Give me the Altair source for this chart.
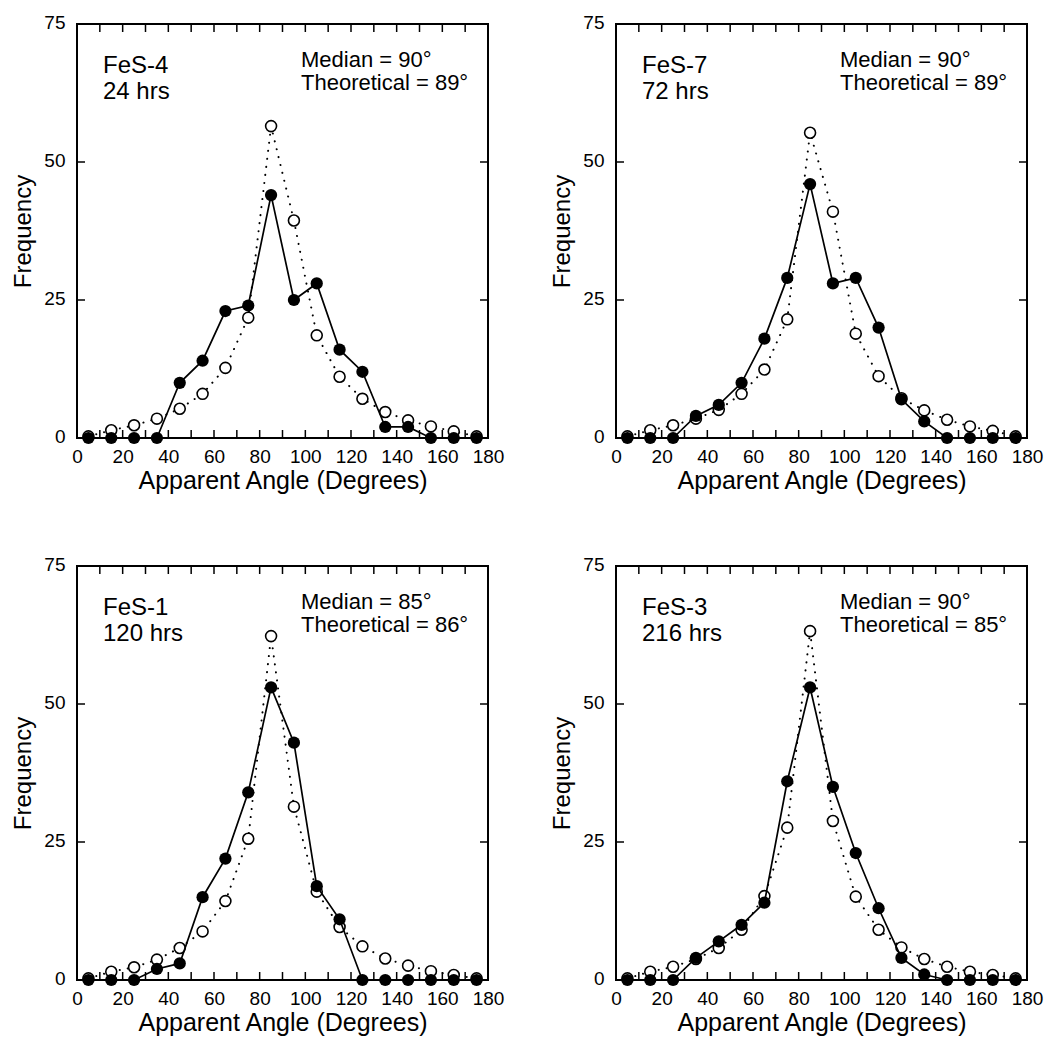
import altair as alt
import pandas as pd

angles = [5, 15, 25, 35, 45, 55, 65, 75, 85, 95, 105, 115, 125, 135, 145, 155, 165, 175]

names = ["FeS-4", "FeS-7", "FeS-1", "FeS-3"]
hours = ["24 hrs", "72 hrs", "120 hrs", "216 hrs"]
medians = ["Median = 90°", "Median = 90°", "Median = 85°", "Median = 90°"]
theoreticals = ["Theoretical = 89°", "Theoretical = 89°", "Theoretical = 86°", "Theoretical = 85°"]

observed_fes4 = [0, 0, 0, 0, 10, 14, 23, 24, 44, 25, 28, 16, 12, 2, 2, 0, 0, 0]
theory_fes4 = [0.3, 1.4, 2.3, 3.5, 5.3, 8.0, 12.7, 21.8, 56.5, 39.4, 18.6, 11.1, 7.1, 4.7, 3.2, 2.1, 1.2, 0.3]

observed_fes7 = [0, 0, 0, 4, 6, 10, 18, 29, 46, 28, 29, 20, 7, 3, 0, 0, 0, 0]
theory_fes7 = [0.3, 1.4, 2.3, 3.5, 5.1, 8.0, 12.4, 21.5, 55.3, 41.0, 18.9, 11.2, 7.2, 5.0, 3.3, 2.1, 1.3, 0.3]

observed_fes1 = [0, 0, 0, 2, 3, 15, 22, 34, 53, 43, 17, 11, 0, 0, 0, 0, 0, 0]
theory_fes1 = [0.3, 1.5, 2.3, 3.7, 5.8, 8.8, 14.3, 25.6, 62.3, 31.4, 16.0, 9.6, 6.1, 3.9, 2.6, 1.6, 0.9, 0.3]

observed_fes3 = [0, 0, 0, 4, 7, 10, 14, 36, 53, 35, 23, 13, 4, 1, 0, 0, 0, 0]
theory_fes3 = [0.3, 1.5, 2.4, 3.8, 5.8, 9.1, 15.2, 27.6, 63.2, 28.8, 15.1, 9.1, 5.9, 3.8, 2.4, 1.5, 0.9, 0.3]

observed = [observed_fes4, observed_fes7, observed_fes1, observed_fes3]
theory = [theory_fes4, theory_fes7, theory_fes1, theory_fes3]

x_ticks = list(range(0, 181, 10))
y_ticks = [0, 25, 50, 75]

W, H = 411, 414
TICK = 8
FONT = "Liberation Sans"

xscale = alt.Scale(domain=[0, 180], nice=False, zero=False)
yscale = alt.Scale(domain=[0, 75], nice=False, zero=True)

bottom_axis = alt.Axis(values=x_ticks, labelExpr="datum.value % 20 == 0 ? datum.label : ''",
                       ticks=False, domain=False, grid=False,
                       labelColor="black", labelFontSize=19, labelPadding=9,
                       labelFont=FONT, labelFlush=False, labelOverlap=False,
                       title="Apparent Angle (Degrees)", titleFontSize=25, titleFont=FONT,
                       titleFontWeight="normal", titleColor="black", titlePadding=2)

left_axis = alt.Axis(values=y_ticks, ticks=False, domain=False, grid=False,
                     labelColor="black", labelFontSize=19,
                     labelPadding=12, labelFont=FONT, labelOffset=-2, labelFlush=False,
                     title="Frequency", titleFontSize=24, titleFont=FONT,
                     titleFontWeight="normal", titleColor="black", titlePadding=8)

xtick_df = pd.DataFrame({"tick": x_ticks})
ytick_df = pd.DataFrame({"tick": y_ticks})


def panel(i):
    df_t = pd.DataFrame({"angle": angles, "freq": theory[i]})
    df_o = pd.DataFrame({"angle": angles, "freq": observed[i]})

    t_line = alt.Chart(df_t).mark_line(color="black", strokeWidth=2, strokeDash=[0.1, 8],
                                       strokeCap="round").encode(
        x=alt.X("angle:Q", scale=xscale, axis=bottom_axis),
        y=alt.Y("freq:Q", scale=yscale, axis=left_axis),
    )
    t_pts = alt.Chart(df_t).mark_point(shape="circle", filled=True, fill="white",
                                       stroke="black", strokeWidth=1.6, size=120,
                                       opacity=1).encode(
        x=alt.X("angle:Q", scale=xscale),
        y=alt.Y("freq:Q", scale=yscale),
    )
    o_line = alt.Chart(df_o).mark_line(color="black", strokeWidth=1.7).encode(
        x=alt.X("angle:Q", scale=xscale),
        y=alt.Y("freq:Q", scale=yscale),
    )
    o_pts = alt.Chart(df_o).mark_circle(color="black", size=150, opacity=1).encode(
        x=alt.X("angle:Q", scale=xscale),
        y=alt.Y("freq:Q", scale=yscale),
    )
    tick_bottom = alt.Chart(xtick_df).mark_rule(color="black", strokeWidth=1.5).encode(
        x=alt.X("tick:Q", scale=xscale), y=alt.value(H), y2=alt.value(H - TICK))
    tick_top = alt.Chart(xtick_df).mark_rule(color="black", strokeWidth=1.5).encode(
        x=alt.X("tick:Q", scale=xscale), y=alt.value(0), y2=alt.value(TICK))
    tick_left = alt.Chart(ytick_df).mark_rule(color="black", strokeWidth=1.5).encode(
        y=alt.Y("tick:Q", scale=yscale), x=alt.value(0), x2=alt.value(TICK))
    tick_right = alt.Chart(ytick_df).mark_rule(color="black", strokeWidth=1.5).encode(
        y=alt.Y("tick:Q", scale=yscale), x=alt.value(W), x2=alt.value(W - TICK))
    left_txt = alt.Chart(pd.DataFrame({"a": [0]})).mark_text(
        align="left", baseline="alphabetic", fontSize=24, font=FONT, color="black",
        lineHeight=26).encode(
        x=alt.value(26), y=alt.value(49), text=alt.value([names[i], hours[i]]))
    right_txt = alt.Chart(pd.DataFrame({"a": [0]})).mark_text(
        align="left", baseline="alphabetic", fontSize=22, font=FONT, color="black",
        lineHeight=23).encode(
        x=alt.value(224), y=alt.value(43), text=alt.value([medians[i], theoreticals[i]]))

    return alt.layer(t_line, tick_bottom, tick_top, tick_left, tick_right,
                     t_pts, o_line, o_pts, left_txt, right_txt).properties(width=W, height=H)


chart = alt.concat(*[panel(i) for i in range(4)], columns=2,
                   spacing={"row": 60, "column": 44}).properties(
    padding={"left": 10, "top": 12, "right": 5, "bottom": 5}
).configure(font=FONT, background="white").configure_view(stroke="black", strokeWidth=2)

chart.save("out.html", embed_options={"renderer": "svg", "actions": False})
